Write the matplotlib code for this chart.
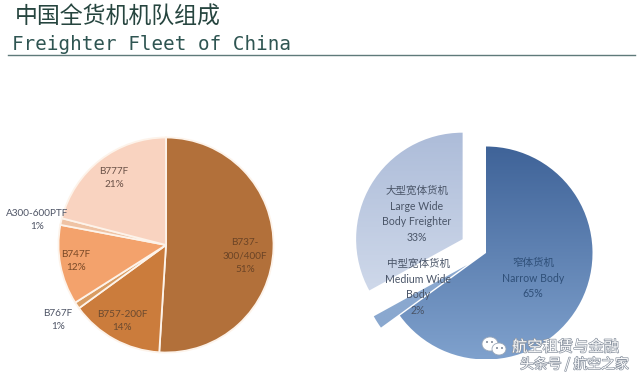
import numpy as np
import matplotlib
matplotlib.use("Agg")
import matplotlib.pyplot as plt
import matplotlib.patheffects as pe
from matplotlib.colors import LinearSegmentedColormap
from matplotlib.patches import Ellipse

W, H = 640, 376
CJK = ['Noto Sans CJK SC', 'DejaVu Sans']
LAT = ['Lato', 'Noto Sans CJK SC']

title_cn = "中国全货机机队组成"
title_en = "Freighter Fleet of China"

left_labels = ["B737-\n300/400F\n51%", "B757-200F\n14%", "B767F\n1%", "B747F\n12%", "A300-600PTF\n1%", "B777F\n21%"]
left_values = [51, 14, 1, 12, 1, 21]
left_colors = ["#b2703a", "#cb7c3c", "#d99c62", "#f3a26c", "#efc3a4", "#f9d3c0"]

right_labels = ["窄体货机\nNarrow Body\n65%", "中型宽体货机\nMedium Wide\nBody\n2%", "大型宽体货机\nLarge Wide\nBody Freighter\n33%"]
right_values = [65, 2, 33]
right_explode = [0, 0.21, 0.255]

fig = plt.figure(figsize=(W / 100, H / 100), dpi=100, facecolor="white")

def pie_axes(cx, cy, r, span=1.5):
    hw = r * span
    ax = fig.add_axes([(cx - hw) / W, 1 - (cy + hw) / H, 2 * hw / W, 2 * hw / H])
    ax.set_xlim(-span, span)
    ax.set_ylim(-span, span)
    ax.set_aspect("equal")
    ax.axis("off")
    return ax

# left pie
axl = pie_axes(166, 245, 107.5)
wl, _ = axl.pie(left_values, colors=left_colors, startangle=90, counterclock=False, radius=1,
                wedgeprops=dict(edgecolor="#fdf3ea", linewidth=1.3))
axl.set_xlim(-1.5, 1.5); axl.set_ylim(-1.5, 1.5)

# right pie: vertical gradients clipped to the wedges
axr = pie_axes(486, 253, 106.5)
wr, _ = axr.pie(right_values, explode=right_explode, colors=["#5b7fb3", "#8aa8cf", "#b6c4de"],
                startangle=90, counterclock=False, radius=1, wedgeprops=dict(linewidth=0))
axr.set_xlim(-1.5, 1.5); axr.set_ylim(-1.5, 1.5)
grads = [("#3f6398", "#7fa1cd"), ("#8aa8cf", "#8aa8cf"), ("#a9b9d7", "#d3dcec")]
grad = np.linspace(0, 1, 256).reshape(-1, 1)
extents = [(-1.1, 1.1, -1.0, 1.0), (-1.5, 0, -1.0, 0), (-1.3, 0.1, -0.55, 1.3)]
for w, (c0, c1), ext in zip(wr, grads, extents):
    cm = LinearSegmentedColormap.from_list("g", [c0, c1])
    im = axr.imshow(grad, cmap=cm, extent=ext, origin="upper", aspect="auto", zorder=2)
    im.set_clip_path(w)
    w.set_alpha(0)
axr.set_xlim(-1.5, 1.5); axr.set_ylim(-1.5, 1.5)

# overlay in pixel coordinates for text and rule
ov = fig.add_axes([0, 0, 1, 1], facecolor="none")
ov.set_xlim(0, W); ov.set_ylim(H, 0); ov.axis("off")

ov.text(15, 17, title_cn, family=CJK, fontsize=16.5, weight="medium", color="#26453f", va="center", ha="left")
ov.text(12, 44, title_en, family="DejaVu Sans Mono", fontsize=13.9, color="#2f5552", va="center", ha="left")
ov.plot([8, 635], [55, 55], color="#5f7a7a", lw=1)

left_pos = [(245, 256), (122, 321), (58, 320), (76, 261), (37, 220), (114, 178)]
left_cols = ["#6b4426", "#6b4a30", "#4f5566", "#7a4a28", "#4f5566", "#6b5248"]
for s, (x, y), c in zip(left_labels, left_pos, left_cols):
    ov.text(x, y, s, family=LAT, fontsize=7.2, color=c, ha="center", va="center", linespacing=1.65)

right_pos = [(533, 278), (418, 287), (417, 214)]
right_cols = ["#2f4f78", "#4a5568", "#4a5568"]
for s, (x, y), c in zip(right_labels, right_pos, right_cols):
    ov.text(x, y, s, family=LAT, fontsize=7.6, color=c, ha="center", va="center", linespacing=1.55)

# watermark
for cx, cy, rx, ry in [(490, 344, 8, 7), (499, 349, 7, 6)]:
    ov.add_patch(Ellipse((cx, cy), 2 * rx, 2 * ry, fc="white", ec="#9aa7b8", lw=0.6, zorder=5))
for cx, cy in [(487, 342), (492, 342), (497, 348), (502, 348)]:
    ov.add_patch(Ellipse((cx, cy), 2, 2, fc="#7d8796", ec="none", zorder=6))
halo = [pe.withStroke(linewidth=1.0, foreground="#8a93a0")]
ov.text(512, 347, "航空租赁与金融", family=CJK, fontsize=11, color="white", va="center", ha="left", path_effects=halo, zorder=6)
ov.text(520, 364, "头条号 / 航空之家", family=CJK, fontsize=10, color="white", va="center", ha="left", path_effects=halo, zorder=6)

fig.savefig("out.png", dpi=100, facecolor="white")
